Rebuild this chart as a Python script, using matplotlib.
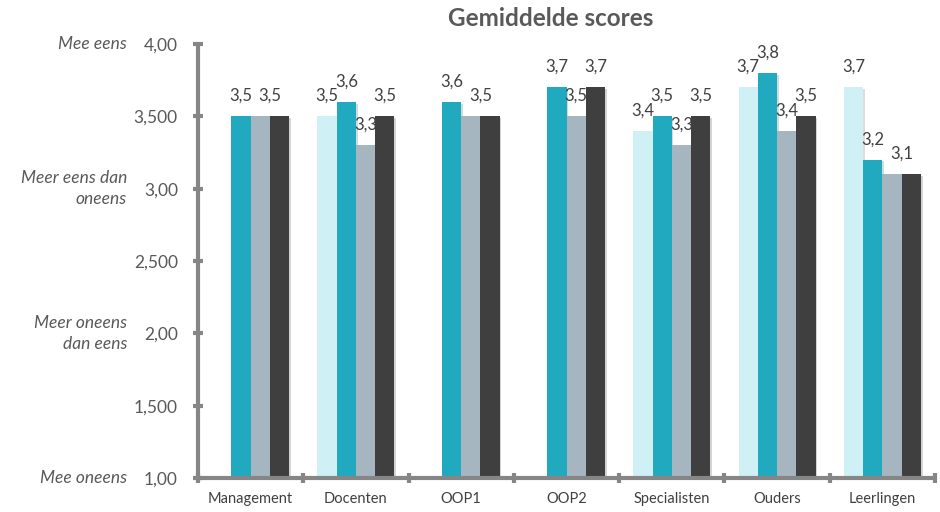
import numpy as np
import matplotlib
matplotlib.use("Agg")
import matplotlib.pyplot as plt
import matplotlib.patheffects as pe

# data
categories = ["Management", "Docenten", "OOP1", "OOP2", "Specialisten", "Ouders", "Leerlingen"]
series_a = [np.nan, 3.5, np.nan, np.nan, 3.4, 3.7, 3.7]   # light cyan
series_b = [3.5, 3.6, 3.6, 3.7, 3.5, 3.8, 3.2]            # teal
series_c = [3.5, 3.3, 3.5, 3.5, 3.3, 3.4, 3.1]            # grey-blue
series_d = [3.5, 3.5, 3.5, 3.7, 3.5, 3.5, 3.1]            # dark grey
y_ticks = [1.0, 1.5, 2.0, 2.5, 3.0, 3.5, 4.0]
y_tick_labels = ["1,00", "1,500", "2,00", "2,500", "3,00", "3,500", "4,00"]
scale_labels = {1.0: "Mee oneens", 2.0: "Meer oneens\ndan eens",
                3.0: "Meer eens dan\noneens", 4.0: "Mee eens"}

colors = ["#CFF0F4", "#21A9BF", "#A5B6C1", "#3F3F3F"]
axis_grey = "#868686"
text_grey = "#595959"

plt.rcParams["font.family"] = ["Lato", "DejaVu Sans"]

fig = plt.figure(figsize = (9.4, 5.12), dpi = 100)
ax = fig.add_axes([198 / 940, 34 / 512, 737 / 940, 434 / 512])

x = np.arange(len(categories))
w = 0.183
all_series = [series_a, series_b, series_c, series_d]
shadow = [pe.SimplePatchShadow(offset = (1.2, -1.2), alpha = 0.18), pe.Normal()]

for k, (vals, col) in enumerate(zip(all_series, colors)):
    pos = x + (k - 1.5) * w
    v = np.array(vals, dtype = float)
    bars = ax.bar(pos, v - 1.0, bottom = 1.0, width = w, color = col,
                  linewidth = 0, zorder = 2)
    for b in bars:
        b.set_path_effects(shadow)

# value labels (equal grey/dark pairs share one label in the middle)
def put_label(xpos, val):
    ax.annotate(f"{val:.1f}".replace(".", ","), (xpos, val),
                xytext = (0, 11), textcoords = "offset points",
                ha = "center", va = "baseline", fontsize = 12,
                color = "#404040", zorder = 5)

for i in range(len(categories)):
    for k in range(2):
        v = all_series[k][i]
        if not np.isnan(v):
            put_label(x[i] + (k - 1.5) * w, v)
    vc, vd = series_c[i], series_d[i]
    if vc == vd:
        put_label(x[i] + w, vc)
    else:
        put_label(x[i] + 0.5 * w, vc)
        put_label(x[i] + 1.5 * w, vd)

# axes styling
ax.set_xlim(-0.5, 6.5)
ax.set_ylim(1.0, 4.0)
for s in ["top", "right"]:
    ax.spines[s].set_visible(False)
for s in ["left", "bottom"]:
    ax.spines[s].set_color(axis_grey)
    ax.spines[s].set_linewidth(3)
    ax.spines[s].set_capstyle("butt")

ax.set_yticks(y_ticks)
ax.set_yticklabels(y_tick_labels)
ax.tick_params(axis = "y", direction = "inout", length = 7, width = 3,
               color = axis_grey, labelsize = 12.5, labelcolor = text_grey, pad = 11)

ax.set_xticks(x)
ax.set_xticklabels(categories)
ax.tick_params(axis = "x", length = 0, labelsize = 10.5, labelcolor = "#404040", pad = 10)
ax.set_xticks(np.arange(-0.5, 7.0, 1.0), minor = True)
ax.tick_params(axis = "x", which = "minor", direction = "inout", length = 7, width = 3,
               color = axis_grey)

for yv, txt in scale_labels.items():
    ax.annotate(txt, (0, yv), xycoords = ("axes fraction", "data"),
                xytext = (-51, 0), textcoords = "offset points",
                ha = "right", va = "center", fontsize = 12.5, style = "italic",
                color = text_grey, linespacing = 1.35, annotation_clip = False)

fig.text(551 / 940, 1 - 19 / 512, "Gemiddelde scores", ha = "center", va = "center",
         fontsize = 17.5, fontweight = "bold", color = text_grey)

fig.savefig("out.png", dpi = 100)
plt.close(fig)
